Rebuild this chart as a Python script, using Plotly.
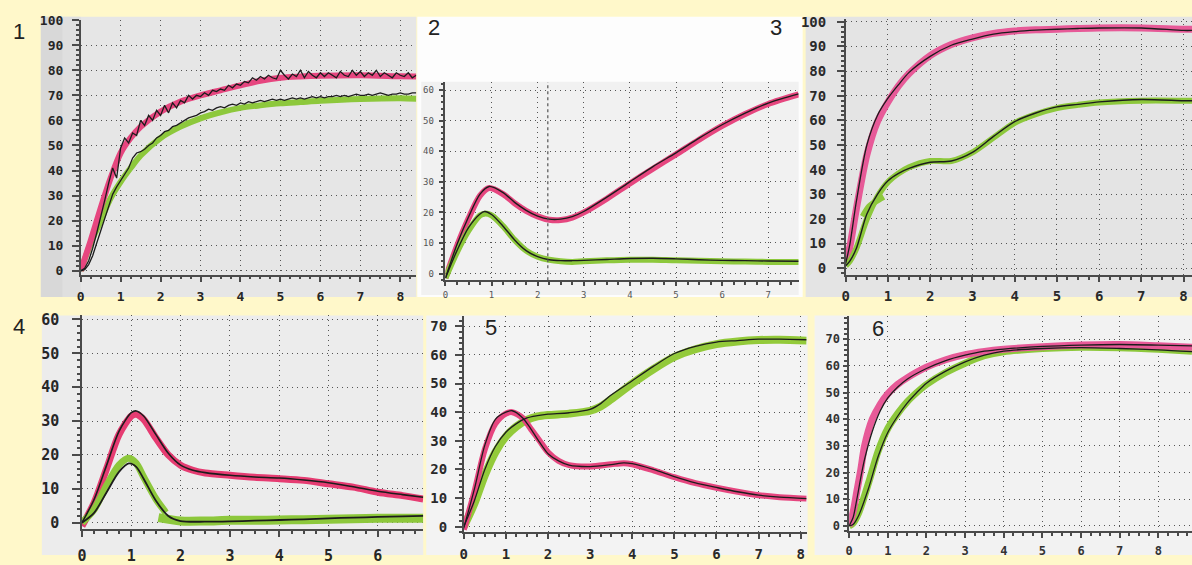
import plotly.graph_objects as go

W, H = 1192, 565

# ---------------- Panel 1 ----------------
p1_x = [0, 0.25, 0.5, 0.75, 1, 1.25, 1.5, 2, 2.5, 3, 3.5, 4, 4.5, 5, 5.5, 6, 7, 8, 8.4]
p1_pink = [0, 12, 25, 37, 47, 53, 57.5, 63.5, 67.5, 70, 72, 74, 75.8, 77, 77.5, 77.8, 78, 77.6, 77.5]
p1_green = [0, 11, 20, 29, 35.5, 41, 46, 53, 57.5, 60.8, 63.2, 65, 66, 66.8, 67.3, 67.8, 68.5, 68.8, 68.6]
p1_bx = [0, 0.1, 0.2, 0.3, 0.4, 0.5, 0.6, 0.7, 0.8, 0.9, 1.0, 1.1, 1.2, 1.3, 1.4, 1.5, 1.6, 1.7,
         1.8, 1.9, 2.0, 2.1, 2.2, 2.3, 2.4, 2.5, 2.6, 2.7, 2.8, 2.9, 3.0, 3.1, 3.2, 3.3, 3.4, 3.5,
         3.6, 3.7, 3.8, 3.9, 4.0, 4.1, 4.2, 4.3, 4.4, 4.5, 4.6, 4.7, 4.8, 4.9, 5.0, 5.1, 5.2, 5.3,
         5.4, 5.5, 5.6, 5.7, 5.8, 5.9, 6.0, 6.1, 6.2, 6.3, 6.4, 6.5, 6.6, 6.7, 6.8, 6.9, 7.0, 7.1,
         7.2, 7.3, 7.4, 7.5, 7.6, 7.7, 7.8, 7.9, 8.0, 8.1, 8.2, 8.3, 8.4]
p1_pink_black = [0, 1, 4, 9, 15, 21, 28, 35, 41, 37, 49, 53, 51, 55, 54, 60, 58, 62,
                 60, 64, 62, 66, 63, 67, 65, 68, 67, 70, 68.5, 70, 69.5, 71, 70, 72, 71.5, 72.5,
                 72, 74, 73, 74.5, 74, 75.5, 75, 77, 76, 77.5, 76.5, 78, 77, 76.5, 80, 78, 76.5, 78.5,
                 77.5, 80, 77, 79.5, 78, 77, 79, 77.5, 79, 78, 77, 79.5, 78, 77.5, 80, 78, 79.5, 77.5,
                 79, 78, 80, 77.5, 79, 78, 77, 79, 78, 77.5, 79, 77, 78]
p1_green_black = [0, 0.5, 2.5, 6, 11, 16, 21, 26, 30.5, 33.5, 36, 38, 41, 45, 47, 47.5, 48.5, 50,
                  51, 53, 54, 55.5, 56, 57.5, 58, 59, 60, 61, 61.5, 62, 63, 63.5, 64.5, 64, 65, 65.5,
                  65, 66, 66.5, 66, 67, 66.5, 67.5, 67, 67.5, 68, 67.5, 68, 68.5, 68, 68.5, 68, 68.5, 69,
                  68.5, 69, 68.5, 69, 69.5, 69, 69.5, 69, 69.5, 69.5, 70, 69.5, 70, 69.5, 70, 70.5, 70, 70,
                  70.5, 70, 70.5, 71, 70.5, 70, 70.5, 70.5, 71, 70.5, 70.5, 71, 71]
p1_xticks = [0, 1, 2, 3, 4, 5, 6, 7, 8]
p1_yticks = [0, 10, 20, 30, 40, 50, 60, 70, 80, 90, 100]

# ---------------- Panel 2 ----------------
p2_x = [0, 0.25, 0.5, 0.75, 0.95, 1.25, 1.5, 1.75, 2, 2.25, 2.5, 2.75, 3, 3.5, 4, 4.5, 5, 5.5, 6, 6.5, 7, 7.66]
p2_pink = [-1.5, 9, 18, 25.5, 28, 26, 23, 20.5, 18.7, 17.6, 17.5, 18.3, 20, 24.5, 29.5, 34.3, 39, 43.8, 48.3, 52.2, 55.5, 58.6]
p2_pink_black = [-1.5, 9.5, 18.5, 26, 28.5, 26.5, 23.3, 20.7, 18.8, 17.8, 17.8, 18.6, 20.3, 25, 30, 35, 39.5, 44.3, 48.7, 52.5, 55.8, 58.8]
p2_gx = [0, 0.25, 0.5, 0.75, 0.85, 1, 1.25, 1.5, 1.75, 2, 2.25, 2.5, 2.75, 3, 3.5, 4, 4.5, 5, 5.5, 6, 6.5, 7, 7.66]
p2_green = [-1.5, 7, 14, 19, 19.6, 19, 15.5, 11, 7.5, 5.5, 4.5, 4, 3.8, 4, 4.3, 4.5, 4.5, 4.3, 4.2, 4, 3.9, 3.8, 3.8]
p2_green_black = [-1.5, 7.5, 15, 19.5, 20.3, 19.3, 15.5, 11, 7.5, 5.5, 4.5, 4.2, 4.2, 4.3, 4.6, 4.9, 5, 4.8, 4.5, 4.3, 4.2, 4.1, 4]
p2_cursor = [2.22]
p2_xticks = [0, 1, 2, 3, 4, 5, 6, 7]
p2_yticks = [0, 10, 20, 30, 40, 50, 60]

# ---------------- Panel 3 ----------------
p3_x = [0, 0.1, 0.25, 0.5, 0.75, 1, 1.25, 1.5, 2, 2.5, 3, 3.5, 4, 4.5, 5, 5.5, 6, 7, 8, 8.2]
p3_pink = [2, 9, 24, 46, 59.5, 67.5, 74, 79, 86.3, 90.8, 93.5, 95.3, 96.3, 96.8, 97, 97.3, 97.5, 97.5, 97, 97]
p3_pink_black = [2, 10, 27, 50, 62, 69, 74.5, 79.5, 86, 90.5, 93, 95, 96, 96.6, 97, 97.3, 97.5, 97.5, 96.5, 96.5]
p3_green = [1, 3, 8, 20, 29, 35, 38.5, 41, 43.5, 43.5, 47, 53, 59, 62.5, 65, 66.3, 67.3, 68, 68, 68]
p3_green_black = [1, 3, 8, 22, 30, 35.5, 38.5, 40.5, 43, 43.5, 47, 53.5, 59.5, 63, 65.5, 66.5, 67.5, 68.5, 68, 68]
p3_branch_x = [0.4, 0.55, 0.7, 0.9]
p3_branch = [21, 25, 27, 29]
p3_xticks = [0, 1, 2, 3, 4, 5, 6, 7, 8]
p3_yticks = [0, 10, 20, 30, 40, 50, 60, 70, 80, 90, 100]

# ---------------- Panel 4 ----------------
p4_x = [0, 0.25, 0.5, 0.75, 1, 1.1, 1.25, 1.5, 1.75, 2, 2.25, 2.5, 3, 3.5, 4, 4.5, 5, 5.5, 6, 6.5, 6.92]
p4_pink = [-1, 6, 16, 26, 31.5, 32, 30.5, 25, 20, 17, 15.5, 14.7, 14, 13.4, 13, 12.5, 11.5, 10.5, 9, 8, 7]
p4_pink_black = [0, 7, 17, 27, 32.5, 33, 31.5, 26, 20.5, 17, 15.5, 14.8, 14, 13.5, 13.2, 12.6, 11.8, 10.6, 9.3, 8.3, 7.5]
p4_gx1 = [0, 0.25, 0.5, 0.75, 0.95, 1.1, 1.25, 1.5, 1.7]
p4_green1 = [0, 4, 11, 17, 19, 17.5, 13.5, 7, 3]
p4_gx2 = [1.55, 2, 2.5, 3, 3.5, 4, 4.5, 5, 5.5, 6, 6.5, 6.92]
p4_green2 = [1.5, 0.5, 0.5, 0.7, 0.7, 0.8, 0.9, 1, 1.2, 1.3, 1.3, 1.3]
p4_bgx = [0, 0.25, 0.5, 0.75, 0.95, 1.1, 1.25, 1.5, 1.75, 2, 2.5, 3, 3.5, 4, 4.5, 5, 5.5, 6, 6.5, 6.92]
p4_green_black = [0, 3, 9, 15, 17.5, 16.5, 13, 6.5, 2, 0.5, 0.3, 0.4, 0.6, 0.8, 1, 1.3, 1.5, 1.7, 1.9, 2]
p4_xticks = [0, 1, 2, 3, 4, 5, 6, 7]
p4_yticks = [0, 10, 20, 30, 40, 50, 60]

# ---------------- Panel 5 ----------------
p5_px = [0, 0.25, 0.5, 0.75, 1, 1.15, 1.4, 1.6, 1.8, 2, 2.25, 2.5, 3, 3.5, 3.8, 4, 4.5, 5, 5.5, 6, 6.5, 7, 7.5, 8.14]
p5_pink = [-1, 12, 27, 36, 39.5, 40, 38, 34, 30, 26, 23, 21.5, 21, 21.8, 22.2, 21.8, 19.7, 17.3, 15.2, 13.6, 12.2, 11, 10.3, 9.8]
p5_pink_black = [-0.5, 13, 28.5, 37.5, 40, 40.5, 38, 34, 29.5, 25.5, 23, 21.5, 21, 21.7, 22.3, 22, 20, 17.5, 15.3, 13.7, 12.2, 11, 10.3, 9.8]
p5_gx = [0, 0.25, 0.5, 0.75, 1, 1.25, 1.5, 1.75, 2, 2.5, 3, 3.25, 3.5, 4, 4.5, 5, 5.5, 6, 6.5, 7, 7.5, 8.14]
p5_green = [0, 8, 18, 26, 31.5, 35, 37.3, 38.5, 39, 39.5, 40.5, 42, 44.5, 50, 55, 59.3, 62, 63.8, 64.7, 65.2, 65.3, 65]
p5_green_black = [0, 9, 20, 28, 33, 36, 38, 38.8, 39.3, 39.8, 41, 43, 46, 51, 56, 60.5, 63, 64.5, 65, 65.5, 65.5, 65.3]
p5_xticks = [0, 1, 2, 3, 4, 5, 6, 7, 8]
p5_yticks = [0, 10, 20, 30, 40, 50, 60, 70]

# ---------------- Panel 6 ----------------
p6_px = [0, 0.1, 0.2, 0.3, 0.4, 0.6, 0.8, 1, 1.25, 1.5, 2, 2.5, 3, 3.5, 4, 5, 6, 7, 8, 8.87]
p6_pink = [0, 5, 13, 21, 30, 40, 45.5, 49.5, 53, 55.5, 59.5, 62.3, 64.2, 65.4, 66.2, 67.2, 67.8, 68, 67.5, 67]
p6_pink_black = [0, 3, 10, 18, 25, 35.5, 43, 48, 52, 55, 59, 62, 64, 65.5, 66.3, 67.3, 67.8, 68, 67.8, 67.5]
p6_gx = [0, 0.1, 0.25, 0.5, 0.75, 1, 1.25, 1.5, 1.75, 2, 2.5, 3, 3.5, 4, 5, 6, 7, 8, 8.87]
p6_green = [0, 1, 5, 16, 28, 36.5, 42, 46.5, 50, 53, 57.5, 61, 63.8, 65.3, 66.5, 67, 66.8, 66.2, 65.5]
p6_green_black = [0, 0.5, 4, 14, 26, 35, 41, 46, 50, 53.5, 58, 61.5, 64, 65.5, 66.5, 66.8, 66.5, 66, 65.3]
p6_xticks = [0, 1, 2, 3, 4, 5, 6, 7, 8]
p6_yticks = [0, 10, 20, 30, 40, 50, 60, 70]

panel_labels = ["1", "2", "3", "4", "5", "6"]

# ---------------- styling ----------------
PINK = "#E6467F"
GREEN = "#8DC83C"
BLACK = "#1c1c1c"
YELLOW = "#FFF8CA"
GRID_DASH = "1px,4px"

fig = go.Figure()


def px_x(p):
    return p / W


def px_y(p):
    return 1 - p / H


def add_rect(x0, y0, x1, y1, color):
    fig.add_shape(type="rect", xref="paper", yref="paper",
                  x0=px_x(x0), x1=px_x(x1), y0=px_y(y1), y1=px_y(y0),
                  fillcolor=color, line=dict(width=0), layer="below")


# image backgrounds
add_rect(36, 10, 413, 299, "#e6e6e6")
add_rect(36, 10, 58, 299, "#d8d8d8")
add_rect(58, 10, 76, 299, "#dfdfdf")
add_rect(414, 10, 801, 299, "#fdfdfd")
add_rect(418, 77, 797, 297, "#f1f1f1")
add_rect(804, 10, 1192, 299, "#e4e4e4")
add_rect(37, 318, 420, 565, "#ececec")
add_rect(423, 318, 806, 565, "#f3f3f3")
add_rect(813, 318, 1192, 565, "#f2f2f2")


def setup_axes(n, box, xr, yr, xticks, yticks, fsize, fcolor, weight,
               ystand, xstand, ylen, xlen):
    left, right, top, bottom = box
    xa = "xaxis" if n == 1 else f"xaxis{n}"
    ya = "yaxis" if n == 1 else f"yaxis{n}"
    font = dict(family="DejaVu Sans Mono", size=fsize, color=fcolor, weight=weight)
    common = dict(showline=True, linecolor="#4a4a4a", linewidth=1.5, mirror=False,
                  showgrid=True, gridcolor="#555555", gridwidth=1.2, griddash=GRID_DASH,
                  zeroline=False, ticks="outside", tickcolor="#4a4a4a", tickwidth=1.5,
                  tickfont=font, tickmode="array", fixedrange=True)
    fig.update_layout(**{
        xa: dict(domain=[px_x(left), px_x(right)], range=xr, tickvals=xticks,
                 ticktext=[str(t) for t in xticks], ticklen=xlen, ticklabelstandoff=xstand,
                 anchor=("y" if n == 1 else f"y{n}"),
                 minor=dict(tickmode="linear", tick0=0, dtick=0.25, ticks="outside",
                            ticklen=3, tickcolor="#4a4a4a", showgrid=False),
                 **common),
        ya: dict(domain=[px_y(bottom), px_y(top)], range=yr, tickvals=yticks,
                 ticktext=[str(t) for t in yticks], ticklen=ylen, ticklabelstandoff=ystand,
                 anchor=("x" if n == 1 else f"x{n}"),
                 minor=dict(tickmode="linear", tick0=0, dtick=2, ticks="outside",
                            ticklen=3, tickcolor="#4a4a4a", showgrid=False),
                 **common),
    })


def line(n, x, y, color, width, shape="spline"):
    xs = "x" if n == 1 else f"x{n}"
    ys = "y" if n == 1 else f"y{n}"
    fig.add_trace(go.Scatter(x=x, y=y, mode="lines", xaxis=xs, yaxis=ys,
                             line=dict(color=color, width=width, shape=shape,
                                       smoothing=0.8 if shape == "spline" else None),
                             hoverinfo="skip", showlegend=False))


# axes for the six panels (box = left, right, top, bottom in pixels)
setup_axes(1, (76, 413, 13, 276), [0, 8.4], [-1.54, 100.2], p1_xticks, p1_yticks, 13, "#262626", "bold", 6, 3, 7, 6)
setup_axes(2, (442.3, 797, 77.3, 281.7), [0, 7.66], [-2.2, 62.7], p2_xticks, p2_yticks, 9, "#555555", "normal", 3, 1, 5, 4)
setup_axes(3, (844.3, 1192, 12, 276.7), [0, 8.2], [-2.9, 101.3], p3_xticks, p3_yticks, 14, "#2a2a2a", "bold", 8, 2, 7, 5)
setup_axes(4, (77.3, 420, 318, 538), [0, 6.92], [-1.8, 61.2], p4_xticks, p4_yticks, 15, "#262626", "bold", 10, 6, 8, 6)
setup_axes(5, (460.7, 805, 318.3, 541.7), [0, 8.14], [-2.0, 73.7], p5_xticks, p5_yticks, 14, "#2a2a2a", "bold", 5, 3, 7, 5)
setup_axes(6, (847.7, 1192, 318.3, 540.7), [0, 8.87], [-2.1, 78.8], p6_xticks, p6_yticks, 12, "#333333", "bold", 1, 2, 4, 5)

# panel 2 cursor line
fig.add_shape(type="line", xref="x2", yref="y2 domain", x0=p2_cursor[0], x1=p2_cursor[0],
              y0=0, y1=1, line=dict(color="#555555", width=1.2, dash="dot"))

# colored (thick) curves
line(1, p1_x, p1_green, GREEN, 6)
line(1, p1_x, p1_pink, PINK, 6)
line(2, p2_x, p2_pink, PINK, 6)
line(2, p2_gx, p2_green, GREEN, 6)
line(3, p3_x, p3_pink, "#E75A98", 7)
line(3, p3_x, p3_green, GREEN, 6)
line(3, p3_branch_x, p3_branch, GREEN, 6)
line(4, p4_x, p4_pink, "#E63C72", 7)
line(4, p4_gx1, p4_green1, GREEN, 7)
line(4, p4_gx2, p4_green2, GREEN, 9)
line(5, p5_gx, p5_green, "#93CA3A", 8)
line(5, p5_px, p5_pink, PINK, 6)
line(6, p6_gx, p6_green, GREEN, 7)
line(6, p6_px, p6_pink, "#E75A98", 7)

# thin black curves
line(1, p1_bx, p1_green_black, BLACK, 1.3, shape="linear")
line(1, p1_bx, p1_pink_black, BLACK, 1.3, shape="linear")
line(2, p2_x, p2_pink_black, BLACK, 1.4)
line(2, p2_gx, p2_green_black, BLACK, 1.4)
line(3, p3_x, p3_pink_black, BLACK, 1.3)
line(3, p3_x, p3_green_black, BLACK, 1.4)
line(4, p4_x, p4_pink_black, BLACK, 1.6)
line(4, p4_bgx, p4_green_black, BLACK, 1.8)
line(5, p5_px, p5_pink_black, BLACK, 1.3)
line(5, p5_gx, p5_green_black, BLACK, 1.3)
line(6, p6_px, p6_pink_black, BLACK, 1.3)
line(6, p6_gx, p6_green_black, BLACK, 1.3)

# panel numbers
label_pos = [(14, 25), (431, 21), (774, 21), (14, 329), (488, 330), (877, 331)]
for txt, (lx, ly) in zip(panel_labels, label_pos):
    fig.add_annotation(text=txt, xref="paper", yref="paper", x=px_x(lx), y=px_y(ly),
                       showarrow=False, xanchor="center", yanchor="middle",
                       font=dict(family="Liberation Sans", size=22, color="#222222"))

fig.update_layout(width=W, height=H, margin=dict(l=0, r=0, t=0, b=0),
                  paper_bgcolor=YELLOW, plot_bgcolor="rgba(0,0,0,0)",
                  showlegend=False, hovermode=False)

fig.write_html("out.html", config={"displayModeBar": False},
               post_script="document.body.style.margin='0';document.body.style.overflow='hidden';")
